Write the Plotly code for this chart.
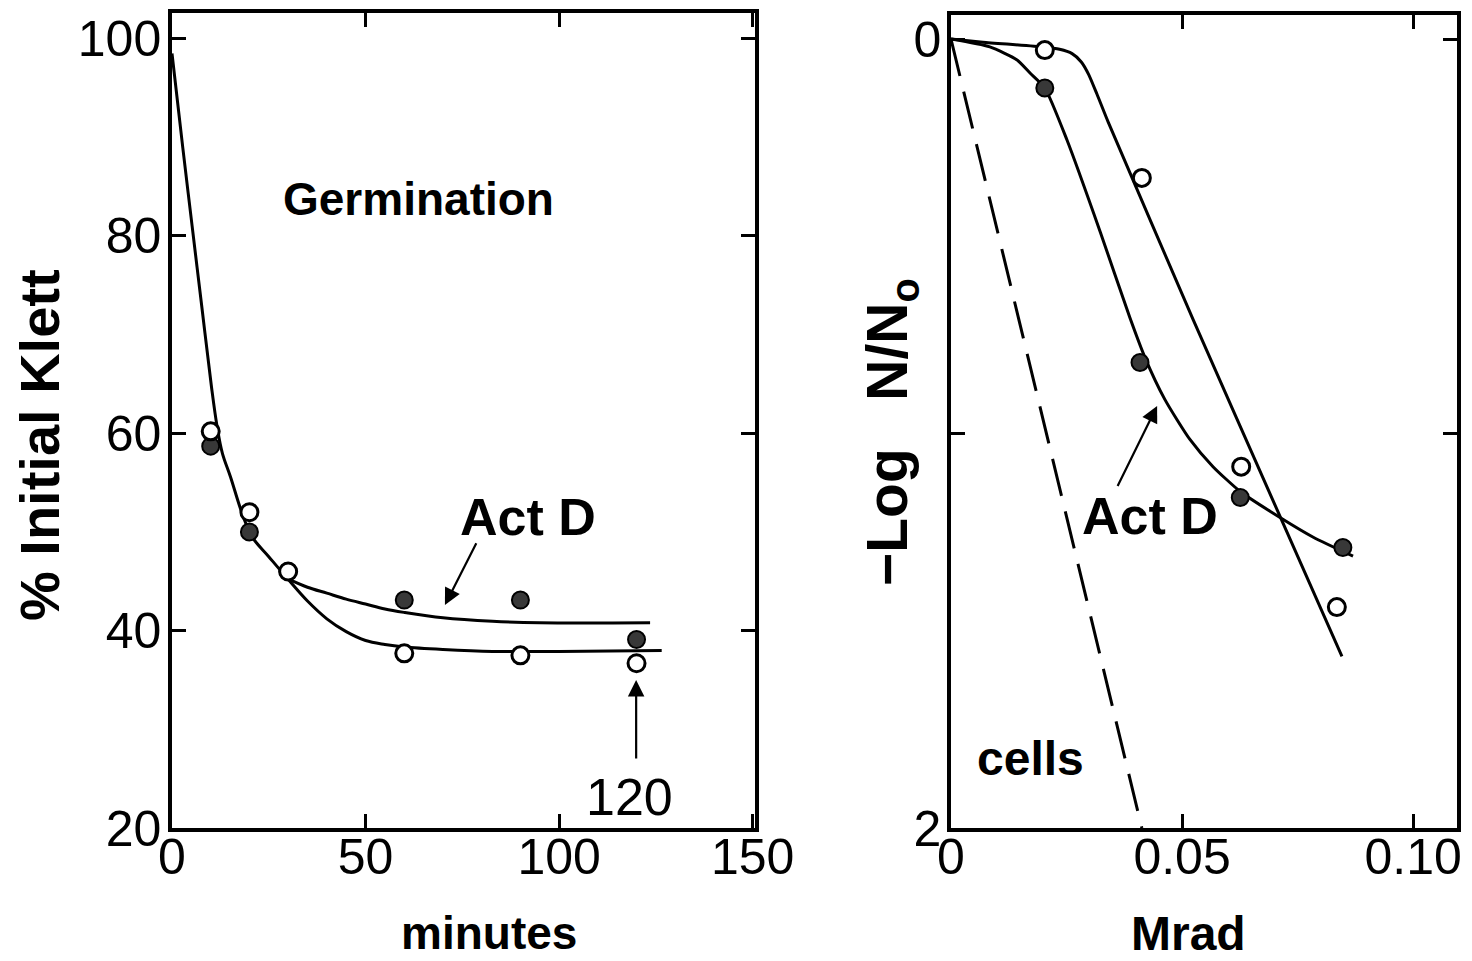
import plotly.graph_objects as go
from plotly.subplots import make_subplots

# ---------------- Left panel: germination (% initial Klett vs minutes) -------------
minutes_ctrl = [10, 20, 30, 60, 90, 120]
klett_ctrl = [60.2, 52.0, 46.0, 37.7, 37.5, 36.7]
minutes_actd = [10, 20, 30, 60, 90, 120]
klett_actd = [58.7, 50.0, 46.0, 43.1, 43.1, 39.1]

# hand-drawn fitted curves
curve_ctrl_t = [0, 2.8, 5.2, 7.8, 10.2, 11.6, 13.0, 15.1, 18.1, 20.7, 25.0, 30.0,
                35.0, 40.0, 45.0, 50.0, 55.0, 60.0, 70.0, 82.8, 100.0, 126.5]
curve_ctrl_y = [98.5, 88.9, 81.0, 72.5, 64.7, 60.8, 58.0, 55.6, 51.9, 49.5, 47.5, 45.2,
                43.0, 41.2, 39.9, 39.0, 38.6, 38.35, 38.1, 37.9, 37.9, 38.0]
curve_actd_t = [29.7, 35, 40, 45, 50, 55, 60, 70, 82.8, 95, 123.5]
curve_actd_y = [45.3, 44.4, 43.8, 43.2, 42.7, 42.2, 41.85, 41.3, 40.95, 40.8, 40.8]

# annotation arrows (tail -> head)
arrow_actd_left_x = [78.8, 70.5]
arrow_actd_left_y = [49.0, 42.6]
arrow_120_x = [119.9, 119.9]
arrow_120_y = [26.9, 35.0]

# ---------------- Right panel: survival (-log N/No vs Mrad) ------------------------
dose_ctrl = [0.0203, 0.0413, 0.0628, 0.0835]
logs_ctrl = [0.028, 0.352, 1.084, 1.44]
dose_actd = [0.0203, 0.0409, 0.0626, 0.0848]
logs_actd = [0.124, 0.82, 1.162, 1.289]

curve_r_ctrl_x = [0, 0.0069, 0.0199, 0.0235, 0.0262, 0.0282, 0.0298, 0.0316, 0.0340,
                  0.0524, 0.0712, 0.0846]
curve_r_ctrl_y = [0, 0.008, 0.020, 0.026, 0.037, 0.058, 0.090, 0.140, 0.210,
                  0.711, 1.21, 1.565]
curve_r_actd_x = [0, 0.0084, 0.0143, 0.0171, 0.0203, 0.0251, 0.0323, 0.0387, 0.042, 0.0463,
                  0.0517, 0.0567, 0.0626, 0.0712, 0.0784, 0.087]
curve_r_actd_y = [0, 0.020, 0.053, 0.086, 0.124, 0.256, 0.489, 0.706, 0.808, 0.914,
                  1.015, 1.084, 1.147, 1.213, 1.263, 1.311]
cells_x = [0, 0.0413]
cells_y = [0, 2.0]

arrow_actd_right_x = [0.0359, 0.0446]
arrow_actd_right_y = [1.137, 0.93]

# page geometry (the page body adds an 8px offset)
OFF = 8
W, H = 1472 - OFF, 961 - OFF
FONT = "Liberation Sans"
BLACK = "#000000"

fig = make_subplots(rows=1, cols=2)

line_style = dict(color=BLACK, width=3)
open_marker = dict(symbol="circle", size=17, color="white", line=dict(color=BLACK, width=3))
filled_marker = dict(symbol="circle", size=17, color="#383838", line=dict(color=BLACK, width=2))

# left panel traces
fig.add_trace(go.Scatter(x=curve_ctrl_t, y=curve_ctrl_y, mode="lines", line_shape="spline",
                         line=line_style, name="control fit"), row=1, col=1)
fig.add_trace(go.Scatter(x=curve_actd_t, y=curve_actd_y, mode="lines", line_shape="spline",
                         line=line_style, name="Act D fit"), row=1, col=1)
fig.add_trace(go.Scatter(x=minutes_actd, y=klett_actd, mode="markers", marker=filled_marker,
                         name="Act D"), row=1, col=1)
fig.add_trace(go.Scatter(x=minutes_ctrl, y=klett_ctrl, mode="markers", marker=open_marker,
                         name="control"), row=1, col=1)

# right panel traces
fig.add_trace(go.Scatter(x=cells_x, y=cells_y, mode="lines",
                         line=dict(color=BLACK, width=3, dash="38px,16px"),
                         name="cells"), row=1, col=2)
fig.add_trace(go.Scatter(x=curve_r_ctrl_x, y=curve_r_ctrl_y, mode="lines", line_shape="spline",
                         line=dict(color=BLACK, width=3, smoothing=0.6), name="spores fit"),
              row=1, col=2)
fig.add_trace(go.Scatter(x=curve_r_actd_x, y=curve_r_actd_y, mode="lines", line_shape="spline",
                         line=dict(color=BLACK, width=3, smoothing=0.6), name="Act D fit"),
              row=1, col=2)
fig.add_trace(go.Scatter(x=dose_actd, y=logs_actd, mode="markers", marker=filled_marker,
                         name="Act D"), row=1, col=2)
fig.add_trace(go.Scatter(x=dose_ctrl, y=logs_ctrl, mode="markers", marker=open_marker,
                         name="spores"), row=1, col=2)

axis_common = dict(showline=True, linewidth=3.5, linecolor=BLACK, mirror="allticks",
                   ticks="inside", ticklen=14, tickwidth=3, tickcolor=BLACK,
                   showgrid=False, zeroline=False, automargin=False,
                   tickfont=dict(family=FONT, size=50, color=BLACK))


def px_x(p):
    return (p - OFF) / W


def px_y(p):
    return 1 - (p - OFF) / H


fig.update_layout(
    width=W, height=H,
    margin=dict(l=0, r=0, t=0, b=0),
    paper_bgcolor="white", plot_bgcolor="white",
    showlegend=False,
    xaxis=dict(domain=[px_x(172), px_x(755)], range=[0, 150.6],
               tickvals=[0, 50, 100, 150], ticktext=["0", "50", "100", "150"],
               ticklabelstandoff=-18, **axis_common),
    yaxis=dict(domain=[px_y(828), px_y(13)], range=[20, 102.6],
               tickvals=[20, 40, 60, 80, 100], ticktext=["20", "40", "60", "80", "100"],
               ticklabelstandoff=-3, **axis_common),
    xaxis2=dict(domain=[px_x(951), px_x(1457)], range=[0, 0.1095],
                tickvals=[0, 0.05, 0.10], ticktext=["0", "0.05", "0.10"],
                ticklabelstandoff=-18, **axis_common),
    yaxis2=dict(domain=[px_y(828), px_y(15)], range=[2.0, -0.061],
                tickvals=[0, 2], ticktext=["0", "2"],
                minor=dict(tickvals=[1], ticks="inside", ticklen=14, tickwidth=3,
                           tickcolor=BLACK),
                ticklabelstandoff=-4, **axis_common),
)

bold = lambda s: dict(family=FONT, size=s, color=BLACK, weight="bold")
centered = dict(xanchor="center", yanchor="middle", showarrow=False)
arrow_style = dict(showarrow=True, arrowhead=2, arrowsize=1.5, arrowwidth=2.2,
                   arrowcolor=BLACK, text="")


def arrow(xs, ys, xref, yref):
    axr = xref
    ayr = yref
    return dict(x=xs[1], y=ys[1], ax=xs[0], ay=ys[0], xref=xref, yref=yref,
                axref=axr, ayref=ayr, **arrow_style)


annotations = [
    # axis titles
    dict(text="% Initial Klett", x=px_x(40), y=px_y(445), xref="paper", yref="paper",
         textangle=-90, font=bold(56), **centered),
    dict(text="minutes", x=px_x(489), y=px_y(933), xref="paper", yref="paper",
         font=bold(46), **centered),
    dict(text="\u2212Log   N/N<sub>o</sub>", x=px_x(891), y=px_y(432), xref="paper",
         yref="paper", textangle=-90, font=bold(57), **centered),
    dict(text="Mrad", x=px_x(1188), y=px_y(933), xref="paper", yref="paper",
         font=bold(48), **centered),
    # in-plot labels
    dict(text="Germination", x=63.6, y=83.7, xref="x", yref="y", font=bold(46), **centered),
    dict(text="Act D", x=92, y=51.5, xref="x", yref="y", font=bold(52), **centered),
    dict(text="120", x=118.3, y=23.1, xref="x", yref="y",
         font=dict(family=FONT, size=52, color=BLACK), **centered),
    dict(text="Act D", x=0.0431, y=1.21, xref="x2", yref="y2", font=bold(52), **centered),
    dict(text="cells", x=0.0173, y=1.823, xref="x2", yref="y2", font=bold(48), **centered),
    # arrows
    arrow(arrow_actd_left_x, arrow_actd_left_y, "x", "y"),
    arrow(arrow_120_x, arrow_120_y, "x", "y"),
    arrow(arrow_actd_right_x, arrow_actd_right_y, "x2", "y2"),
]
fig.update_layout(annotations=annotations)

fig.write_html("out.html")
